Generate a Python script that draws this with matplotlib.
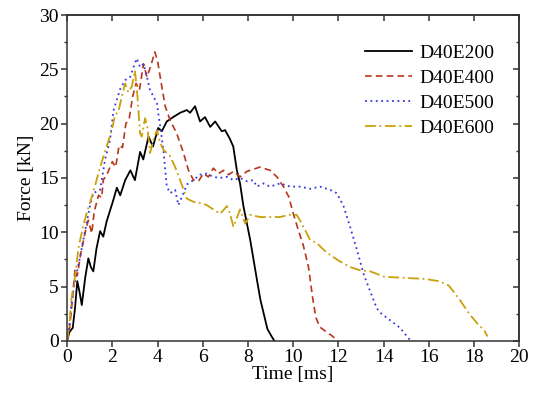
import matplotlib
matplotlib.use("Agg")
import matplotlib.pyplot as plt
import numpy as np

plt.rcParams['font.family'] = ['Liberation Serif', 'DejaVu Serif']
plt.rcParams['font.size'] = 14

# D40E200 (black solid)
t_e200 = [0.0, 0.1, 0.25, 0.35, 0.45, 0.55, 0.65, 0.8, 0.94, 1.05, 1.16, 1.3, 1.46, 1.6, 1.75,
          1.9, 2.05, 2.2, 2.35, 2.57, 2.8, 3.0, 3.23, 3.37, 3.6, 3.8, 4.03, 4.19, 4.41, 4.69,
          5.0, 5.3, 5.44, 5.66, 5.88, 6.1, 6.33, 6.55, 6.84, 6.99, 7.2, 7.35, 7.51, 7.65, 7.8,
          8.1, 8.4, 8.55, 8.86, 9.05, 9.17]
f_e200 = [0.0, 0.8, 1.2, 3.0, 5.5, 4.5, 3.3, 5.8, 7.6, 6.8, 6.4, 8.5, 10.1, 9.6, 11.0,
          12.0, 13.0, 14.1, 13.4, 14.8, 15.7, 14.8, 17.4, 16.7, 18.8, 17.9, 19.6, 19.3, 20.2, 20.6,
          21.0, 21.25, 21.0, 21.6, 20.2, 20.6, 19.7, 20.2, 19.3, 19.4, 18.6, 17.9, 15.7, 14.5, 12.4,
          9.3, 5.6, 3.8, 1.1, 0.4, 0.0]

# D40E400 (red dashed)
t_e400 = [0.0, 0.1, 0.2, 0.35, 0.45, 0.6, 0.8, 0.94, 1.09, 1.2, 1.39, 1.53, 1.6, 1.8, 2.0,
          2.15, 2.3, 2.45, 2.6, 2.75, 2.9, 3.05, 3.2, 3.38, 3.53, 3.7, 3.88, 4.0, 4.19, 4.34,
          4.56, 4.85, 5.15, 5.37, 5.59, 5.81, 6.03, 6.25, 6.47, 6.7, 6.92, 7.14, 7.36, 7.65, 7.95,
          8.24, 8.54, 8.98, 9.28, 9.57, 9.8, 10.01, 10.23, 10.46, 10.68, 10.86, 11.0, 11.17, 11.48,
          11.7, 11.86, 11.95]
f_e400 = [0.0, 1.0, 3.0, 6.6, 6.0, 8.0, 10.0, 11.1, 9.9, 11.9, 13.4, 13.2, 14.8, 15.5, 16.5,
          16.0, 18.0, 17.8, 20.0, 20.5, 22.5, 23.7, 23.1, 25.5, 24.3, 25.3, 26.6, 25.8, 23.4, 21.6,
          20.3, 19.1, 17.3, 15.7, 14.8, 14.7, 15.4, 15.1, 15.9, 15.4, 15.7, 15.3, 15.6, 15.1, 15.6,
          15.8, 16.0, 15.7, 15.1, 14.2, 13.3, 11.7, 10.2, 8.7, 6.8, 4.0, 2.2, 1.3, 0.8,
          0.5, 0.2, 0.0]

# D40E500 (blue dotted)
t_e500 = [0.0, 0.1, 0.2, 0.3, 0.45, 0.6, 0.8, 1.02, 1.16, 1.46, 1.68, 1.9, 2.05, 2.2, 2.35,
          2.57, 2.79, 2.94, 3.08, 3.23, 3.38, 3.53, 3.67, 3.82, 3.97, 4.12, 4.26, 4.41, 4.56, 4.78,
          4.92, 5.15, 5.3, 5.59, 5.88, 6.18, 6.47, 6.77, 7.07, 7.36, 7.65, 7.95, 8.24, 8.39, 8.69,
          8.98, 9.42, 9.87, 10.31, 10.75, 11.19, 11.64, 11.93, 12.23, 12.52, 12.82, 13.11, 13.4, 13.7,
          13.85, 14.29, 14.73, 15.2]
f_e500 = [0.0, 1.5, 3.5, 5.0, 6.5, 8.0, 10.2, 12.5, 13.6, 13.9, 16.7, 18.5, 21.2, 22.2, 23.2,
          24.0, 24.3, 25.2, 26.0, 25.2, 25.5, 24.3, 23.1, 22.5, 21.9, 19.7, 17.6, 14.2, 13.6, 13.9,
          12.5, 13.6, 14.4, 14.8, 15.3, 15.4, 15.1, 15.0, 15.1, 14.8, 15.0, 14.7, 14.8, 14.2, 14.5,
          14.2, 14.5, 14.2, 14.2, 14.0, 14.2, 13.9, 13.6, 12.4, 10.5, 8.4, 6.2, 4.6, 3.0,
          2.6, 1.9, 1.2, 0.0]

# D40E600 (gold dash-dot)
t_e600 = [0.0, 0.1, 0.2, 0.35, 0.5, 0.7, 0.9, 1.16, 1.46, 1.75, 1.98, 2.12, 2.27, 2.42, 2.57,
          2.71, 2.86, 3.0, 3.1, 3.23, 3.3, 3.45, 3.55, 3.67, 3.82, 3.97, 4.12, 4.26, 4.56, 4.78,
          5.0, 5.3, 5.59, 5.88, 6.18, 6.47, 6.77, 7.07, 7.21, 7.36, 7.65, 7.88, 8.1, 8.54, 8.98,
          9.42, 9.79, 10.16, 10.38, 10.75, 11.05, 11.34, 11.64, 12.08, 12.52, 12.96, 13.41, 14.04,
          14.94, 15.84, 16.44, 16.88, 17.3, 17.79, 18.23, 18.45, 18.6]
f_e600 = [0.0, 1.5, 4.0, 5.9, 8.5, 10.5, 12.0, 13.7, 16.0, 17.9, 19.4, 20.8, 21.1, 22.5, 23.7,
          22.9, 23.4, 24.9, 22.8, 19.1, 18.8, 20.5, 19.7, 17.3, 18.5, 19.4, 18.2, 17.6, 17.0, 16.0,
          14.8, 13.1, 12.8, 12.7, 12.5, 12.1, 11.7, 12.4, 11.7, 10.5, 12.1, 10.8, 11.6, 11.4, 11.4,
          11.4, 11.6, 11.6, 10.8, 9.3, 9.0, 8.4, 7.9, 7.3, 6.8, 6.5, 6.4, 5.9,
          5.8, 5.7, 5.5, 5.1, 4.0, 2.5, 1.4, 1.0, 0.4]

fig = plt.figure(figsize=(5.5, 3.95), dpi=100)
ax = fig.add_axes([0.122, 0.137, 0.822, 0.825])

ax.plot(t_e200, f_e200, color='black', lw=1.3, ls='-', label='D40E200')
ax.plot(t_e400, f_e400, color='#b8361c', lw=1.2, ls=(0, (4, 2.5)), label='D40E400')
ax.plot(t_e500, f_e500, color='#3535e0', lw=1.3, ls=(0, (1, 2)), label='D40E500')
ax.plot(t_e600, f_e600, color='#c9a10a', lw=1.3, ls=(0, (6, 2, 1, 2)), label='D40E600')

ax.set_xlim(0, 20)
ax.set_ylim(0, 30)
ax.set_xticks(np.arange(0, 21, 2))
ax.set_yticks(np.arange(0, 31, 5))
ax.set_yticks(np.arange(0, 31, 2.5), minor=True)
ax.set_xlabel('Time [ms]', labelpad=0)
ax.set_ylabel('Force [kN]', labelpad=3)

for s in ax.spines.values():
    s.set_color('#333333')
    s.set_linewidth(1.1)
ax.tick_params(which='major', direction='out', length=4, width=1.1, color='#333333', pad=2)
ax.tick_params(which='minor', direction='out', length=2.5, width=1.0, color='#333333')

# mirrored ticks on top and right, pointing inwards
top = ax.secondary_xaxis('top')
top.set_xticks(np.arange(0, 21, 2))
top.tick_params(direction='in', length=4, width=1.1, color='#333333', labeltop=False)
right = ax.secondary_yaxis('right')
right.set_yticks(np.arange(0, 31, 5))
right.set_yticks(np.arange(0, 31, 2.5), minor=True)
right.tick_params(which='major', direction='in', length=4, width=1.1, color='#333333', labelright=False)
right.tick_params(which='minor', direction='in', length=2.5, width=1.0, color='#333333')
for a in (top, right):
    for s in a.spines.values():
        s.set_color('#333333')
        s.set_linewidth(1.1)

ax.legend(loc='upper right', bbox_to_anchor=(0.972, 0.945), frameon=False,
          handlelength=2.4, handletextpad=0.4, labelspacing=0.38, borderaxespad=0.2)

plt.savefig('out.png', dpi=100)
